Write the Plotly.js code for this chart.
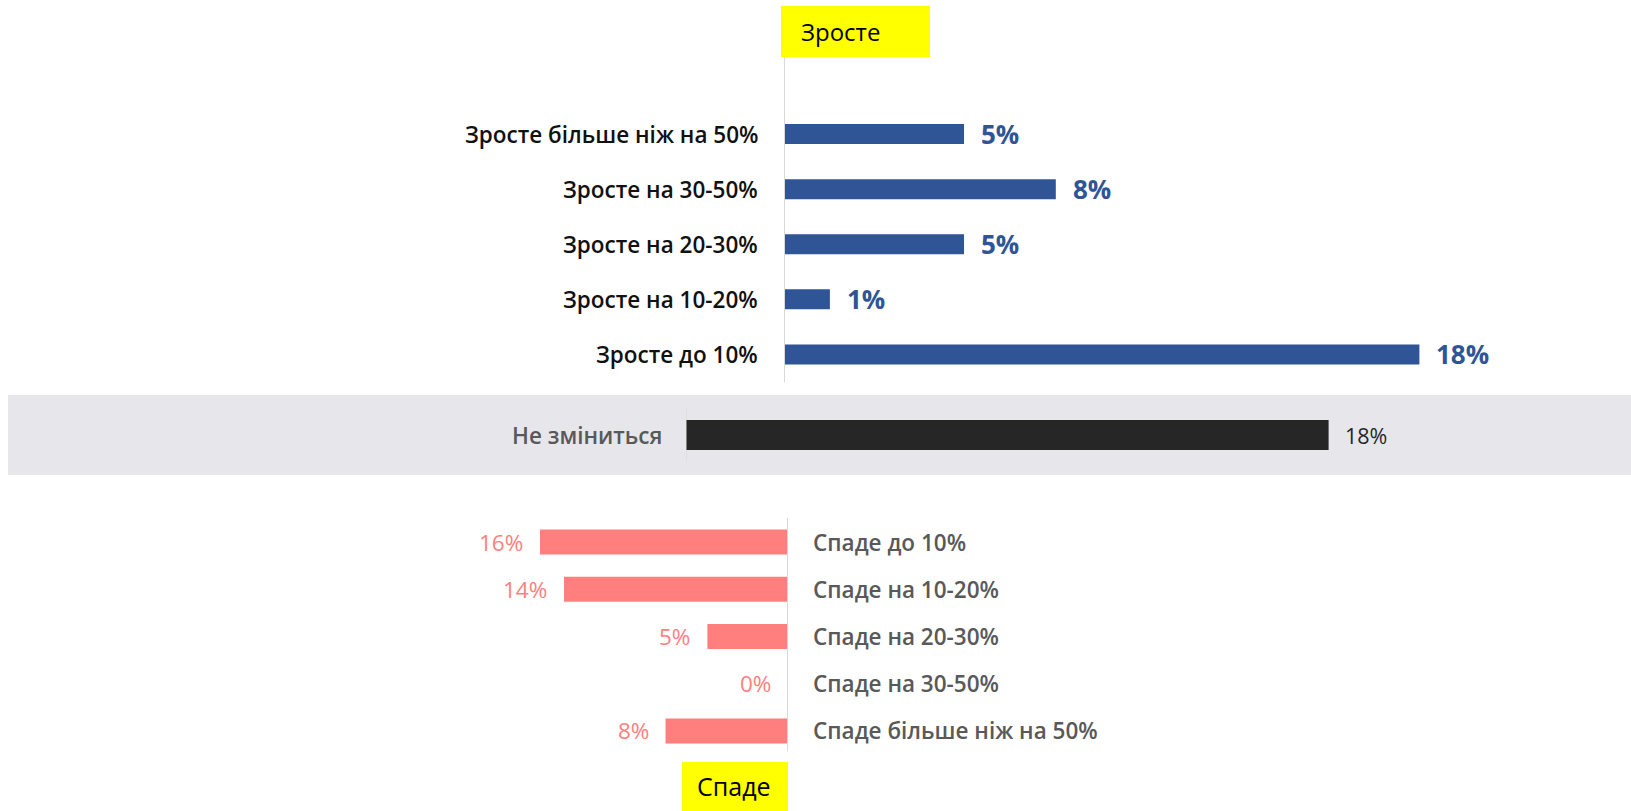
<!DOCTYPE html>
<html>
<head>
<meta charset="utf-8">
<script src="https://cdn.plot.ly/plotly-3.0.1.min.js"></script>
<style>html,body{margin:0;padding:0;background:#fff;}#chart{width:1631px;height:811px;}</style>
</head>
<body>
<div id="chart"></div>
<script>
// ---- data ----
const growCategories = ["Зросте більше ніж на 50%", "Зросте на 30-50%", "Зросте на 20-30%", "Зросте на 10-20%", "Зросте до 10%"];
const growValues = [5.1, 7.7, 5.1, 1.3, 18.0];
const sameCategories = ["Не зміниться"];
const sameValues = [18.0];
const fallCategories = ["Спаде до 10%", "Спаде на 10-20%", "Спаде на 20-30%", "Спаде на 30-50%", "Спаде більше ніж на 50%"];
const fallValues = [16.0, 14.45, 5.2, 0.0, 7.9];
const growTitle = "Зросте";
const fallTitle = "Спаде";

// ---- layout helpers ----
const W = 1631, H = 811;
const px = v => v / W;
const py = v => 1 - v / H;
const FONT = "Open Sans, Noto Sans, sans-serif";
const pct = v => Math.round(v) + "%";

const traces = [
  {type: "bar", orientation: "h", x: growValues, y: growCategories, xaxis: "x", yaxis: "y",
   marker: {color: "#2F5597"}, width: 0.363, hoverinfo: "skip"},
  {type: "bar", orientation: "h", x: sameValues, y: sameCategories, xaxis: "x2", yaxis: "y2",
   marker: {color: "#262626"}, width: 0.375, hoverinfo: "skip"},
  {type: "bar", orientation: "h", x: fallValues, y: fallCategories, xaxis: "x3", yaxis: "y3",
   marker: {color: "#FF7F7F"}, width: 0.53, hoverinfo: "skip"}
];

const annotations = [];
growCategories.forEach((c, i) => {
  annotations.push({xref: "paper", yref: "y", x: px(760), y: c, xanchor: "right", yanchor: "middle",
    text: c, showarrow: false, font: {family: FONT, size: 22.5, color: "#111", weight: 600}});
  annotations.push({xref: "x", yref: "y", x: growValues[i], y: c, xanchor: "left", yanchor: "middle", xshift: 15,
    text: pct(growValues[i]), showarrow: false, font: {family: FONT, size: 26, color: "#2F5597", weight: 700}});
});
sameCategories.forEach((c, i) => {
  annotations.push({xref: "paper", yref: "y2", x: px(664), y: c, xanchor: "right", yanchor: "middle",
    text: c, showarrow: false, font: {family: FONT, size: 22.5, color: "#595959", weight: 600}});
  annotations.push({xref: "x2", yref: "y2", x: sameValues[i], y: c, xanchor: "left", yanchor: "middle", xshift: 14,
    text: pct(sameValues[i]), showarrow: false, font: {family: FONT, size: 21.5, color: "#262626", weight: 400}});
});
fallCategories.forEach((c, i) => {
  annotations.push({xref: "paper", yref: "y3", x: px(811), y: c, xanchor: "left", yanchor: "middle",
    text: c, showarrow: false, font: {family: FONT, size: 22.5, color: "#595959", weight: 600}});
  annotations.push({xref: "x3", yref: "y3", x: fallValues[i], y: c, xanchor: "right", yanchor: "middle", xshift: -15,
    text: pct(fallValues[i]), showarrow: false, font: {family: FONT, size: 22.5, color: "#FF8080", weight: 400}});
});
annotations.push({xref: "paper", yref: "paper", x: px(799), y: py(31), xanchor: "left", yanchor: "middle",
  text: growTitle, showarrow: false, font: {family: FONT, size: 24, color: "#000"}});
annotations.push({xref: "paper", yref: "paper", x: px(734), y: py(786), xanchor: "center", yanchor: "middle",
  text: fallTitle, showarrow: false, font: {family: FONT, size: 25, color: "#000"}});

const shapes = [
  // grey band for the middle panel
  {type: "rect", xref: "paper", yref: "paper", x0: px(8), x1: 1, y0: py(475), y1: py(395),
   fillcolor: "#E7E6EB", line: {width: 0}, layer: "below"},
  // yellow boxes
  {type: "rect", xref: "paper", yref: "paper", x0: px(781), x1: px(930), y0: py(57), y1: py(6),
   fillcolor: "#FFFF00", line: {width: 0}},
  {type: "rect", xref: "paper", yref: "paper", x0: px(682), x1: px(788), y0: py(811), y1: py(762),
   fillcolor: "#FFFF00", line: {width: 0}},
  // axis lines
  {type: "line", xref: "x", yref: "paper", x0: 0, x1: 0, y0: py(382), y1: py(57), line: {color: "#D9D9D9", width: 2}},
  {type: "line", xref: "x2", yref: "paper", x0: 0, x1: 0, y0: py(462), y1: py(408), line: {color: "#D9D9D9", width: 1}},
  {type: "line", xref: "x3", yref: "paper", x0: 0, x1: 0, y0: py(751), y1: py(518), line: {color: "#D9D9D9", width: 2}}
];

const hidden = {showgrid: false, zeroline: false, showticklabels: false, showline: false, ticks: "", fixedrange: true};

const layout = {
  width: W, height: H,
  margin: {l: 0, r: 0, t: 0, b: 0},
  paper_bgcolor: "#FFFFFF", plot_bgcolor: "rgba(0,0,0,0)",
  showlegend: false,
  font: {family: FONT},
  xaxis: Object.assign({}, hidden, {domain: [px(784), px(784 + 20 * 35.3)], range: [0, 20], anchor: "y"}),
  yaxis: Object.assign({}, hidden, {domain: [py(382), py(106.5)], autorange: "reversed", type: "category", anchor: "x"}),
  xaxis2: Object.assign({}, hidden, {domain: [px(686), px(686 + 20 * 35.7)], range: [0, 20], anchor: "y2"}),
  yaxis2: Object.assign({}, hidden, {domain: [py(475), py(395)], range: [-0.5, 0.5], type: "category", anchor: "x2"}),
  xaxis3: Object.assign({}, hidden, {domain: [px(788 - 20 * 15.5), px(788)], range: [20, 0], anchor: "y3"}),
  yaxis3: Object.assign({}, hidden, {domain: [py(754.6), py(518.4)], autorange: "reversed", type: "category", anchor: "x3"}),
  annotations: annotations,
  shapes: shapes
};

Plotly.newPlot("chart", traces, layout, {displayModeBar: false, staticPlot: true});
</script>
</body>
</html>
